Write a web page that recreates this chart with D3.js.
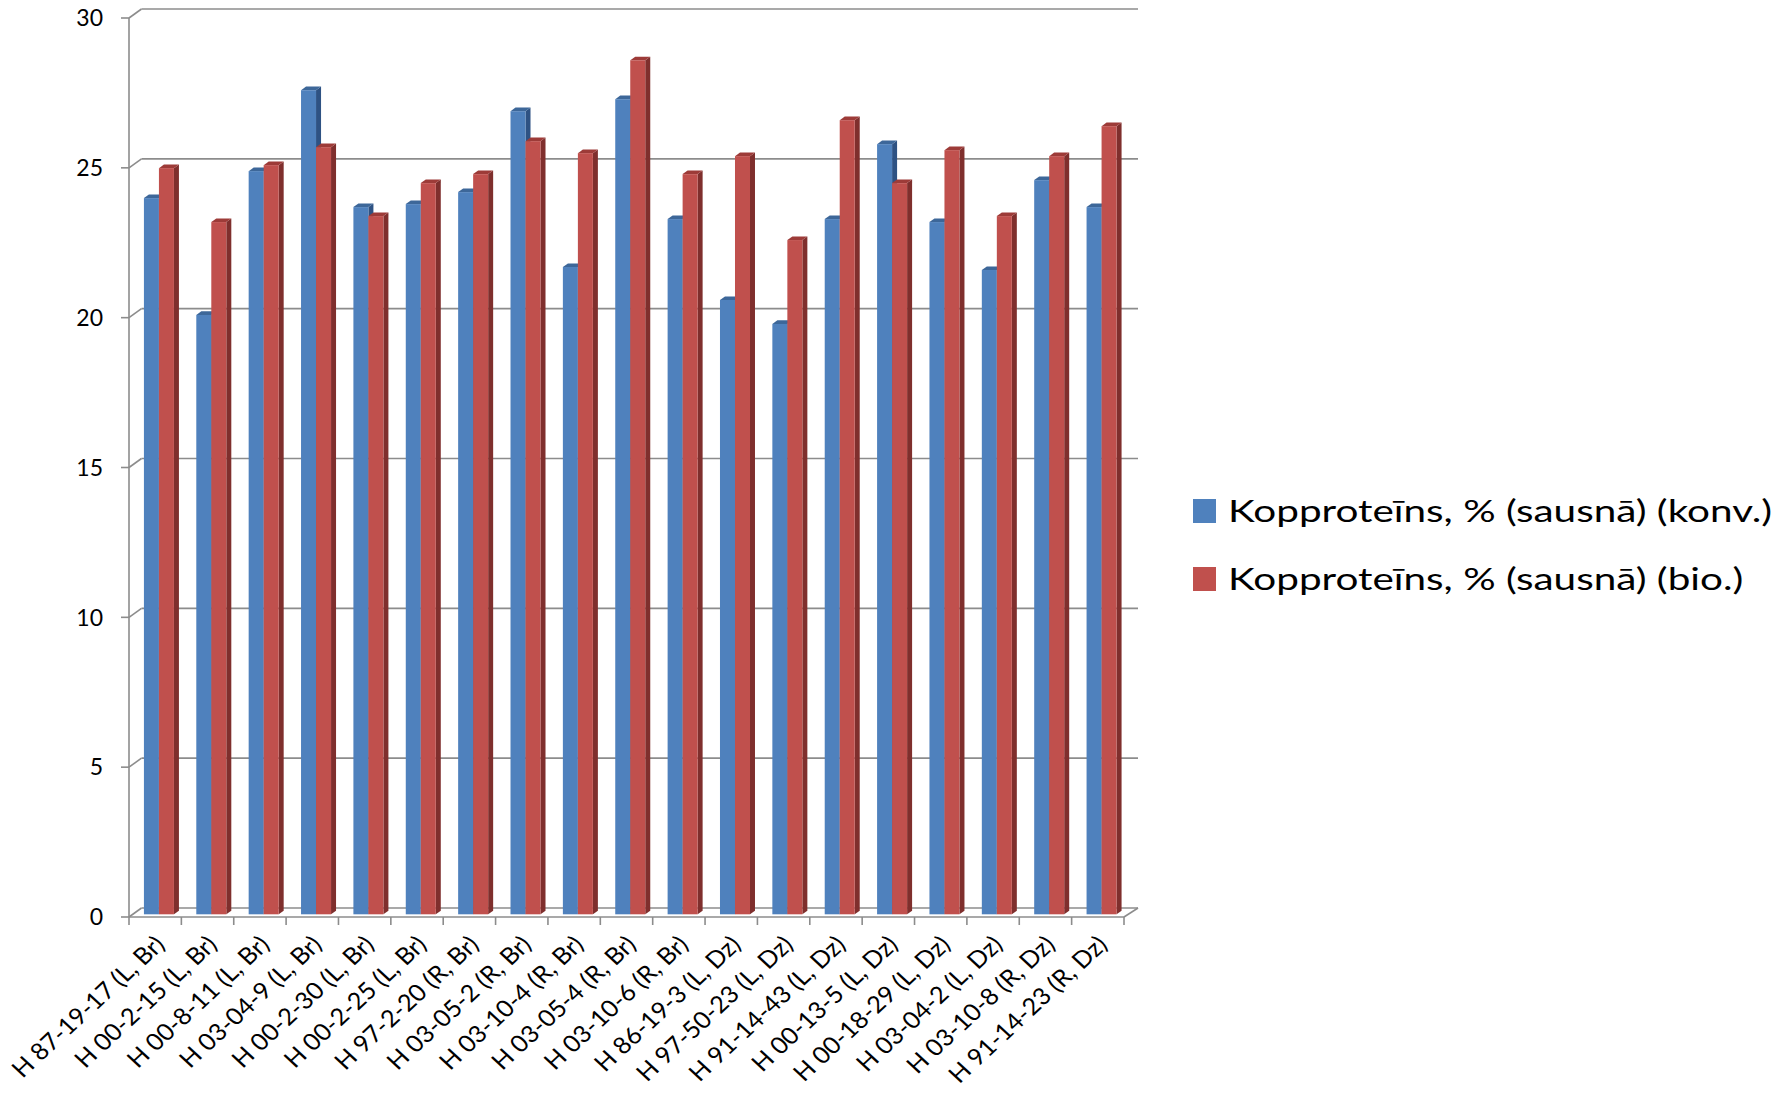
<!DOCTYPE html>
<html>
<head>
<meta charset="utf-8">
<script src="https://cdn.jsdelivr.net/npm/d3@7"></script>
<style>
  html, body { margin: 0; padding: 0; background: #ffffff; }
  svg { display: block; }
  text { font-family: Lato, "Open Sans", "DejaVu Sans", sans-serif; fill: #000; }
</style>
</head>
<body>
<svg id="chart" width="1790" height="1094"></svg>
<script>
const categories = [
  "H 87-19-17 (L, Br)", "H 00-2-15 (L, Br)", "H 00-8-11 (L, Br)", "H 03-04-9 (L, Br)",
  "H 00-2-30 (L, Br)", "H 00-2-25 (L, Br)", "H 97-2-20 (R, Br)", "H 03-05-2 (R, Br)",
  "H 03-10-4 (R, Br)", "H 03-05-4 (R, Br)", "H 03-10-6 (R, Br)", "H 86-19-3 (L, Dz)",
  "H 97-50-23 (L, Dz)", "H 91-14-43 (L, Dz)", "H 00-13-5 (L, Dz)", "H 00-18-29 (L, Dz)",
  "H 03-04-2 (L, Dz)", "H 03-10-8 (R, Dz)", "H 91-14-23 (R, Dz)"
];
const seriesNames = ["Kopproteīns, % (sausnā) (konv.)", "Kopproteīns, % (sausnā) (bio.)"];
const konvValues = [23.9, 20.0, 24.8, 27.5, 23.6, 23.7, 24.1, 26.8, 21.6, 27.2, 23.2, 20.5, 19.7, 23.2, 25.7, 23.1, 21.5, 24.5, 23.6];
const bioValues  = [24.9, 23.1, 25.0, 25.6, 23.3, 24.4, 24.7, 25.8, 25.4, 28.5, 24.7, 25.3, 22.5, 26.5, 24.4, 25.5, 23.3, 25.3, 26.3];
const yTicks = [0, 5, 10, 15, 20, 25, 30];

const seriesValues = [konvValues, bioValues];
const faceColors = [
  { front: "#4F81BD", top: "#3D6799", side: "#2E5283" },
  { front: "#C0504D", top: "#9D3B38", side: "#7F2F2D" }
];

const svg = d3.select("#chart");

// Geometry (front plane)
const x0 = 129, x1 = 1124;
const y = d3.scaleLinear().domain([0, 30]).range([917, 18]);
const x = d3.scaleBand().domain(categories).range([x0, x1]).padding(0);
const xs = d3.scaleBand().domain(seriesNames).range([0, x.bandwidth()]).paddingInner(0).paddingOuter(0.745);

// 3D depth vector (floor depth)
const D = { dx: 12.5, dy: -9 };
const fFront = 0.3, fBack = 0.7;

const gridColor = "#8C8C8C";

// Back wall gridlines + left wall diagonals
const grid = svg.append("g");
yTicks.forEach(t => {
  const yf = y(t);
  grid.append("line")
    .attr("x1", x0).attr("y1", yf)
    .attr("x2", x0 + D.dx).attr("y2", yf + D.dy)
    .attr("stroke", gridColor).attr("stroke-width", 1.6);
  grid.append("line")
    .attr("x1", x0 + D.dx).attr("y1", yf + D.dy)
    .attr("x2", x1 + D.dx + 1.5).attr("y2", yf + D.dy)
    .attr("stroke", gridColor).attr("stroke-width", 1.6);
});

// Floor front edge and right edge
grid.append("line")
  .attr("x1", x0).attr("y1", y(0)).attr("x2", x1).attr("y2", y(0))
  .attr("stroke", gridColor).attr("stroke-width", 1.6);
grid.append("line")
  .attr("x1", x1).attr("y1", y(0)).attr("x2", x1 + D.dx + 1.5).attr("y2", y(0) + D.dy)
  .attr("stroke", gridColor).attr("stroke-width", 1.6);

// Y axis line and ticks
grid.append("line")
  .attr("x1", x0).attr("y1", y(30)).attr("x2", x0).attr("y2", y(0))
  .attr("stroke", gridColor).attr("stroke-width", 1.6);
yTicks.forEach(t => {
  grid.append("line")
    .attr("x1", x0 - 8).attr("y1", y(t)).attr("x2", x0).attr("y2", y(t))
    .attr("stroke", gridColor).attr("stroke-width", 1.6);
});
svg.append("g").selectAll("text").data(yTicks).join("text")
  .attr("x", 103).attr("y", d => y(d))
  .attr("dy", "0.36em")
  .attr("text-anchor", "end")
  .attr("font-size", 23)
  .text(d => d);

// X ticks at category boundaries
const boundaries = categories.map(c => x(c)).concat([x1]);
grid.selectAll("line.xt").data(boundaries).join("line")
  .attr("class", "xt")
  .attr("x1", d => d).attr("x2", d => d)
  .attr("y1", y(0)).attr("y2", y(0) + 8)
  .attr("stroke", gridColor).attr("stroke-width", 1.6);

// Bars (3D columns)
const bars = svg.append("g");
const capDx = (fBack - fFront) * D.dx, capDy = (fBack - fFront) * D.dy;
const offX = fFront * D.dx, offY = fFront * D.dy;
categories.forEach((cat, i) => {
  seriesNames.forEach((s, si) => {
    const v = seriesValues[si][i];
    const bx = x(cat) + xs(s) + offX;
    const w = xs.bandwidth();
    const top = y(v) + offY;
    const bot = y(0) + offY;
    const c = faceColors[si];
    bars.append("path")
      .attr("d", `M${bx + w},${top} L${bx + w + capDx},${top + capDy} L${bx + w + capDx},${bot + capDy} L${bx + w},${bot} Z`)
      .attr("fill", c.side);
    bars.append("path")
      .attr("d", `M${bx},${top} L${bx + capDx},${top + capDy} L${bx + w + capDx},${top + capDy} L${bx + w},${top} Z`)
      .attr("fill", c.top);
    bars.append("rect")
      .attr("x", bx).attr("y", top)
      .attr("width", w).attr("height", bot - top)
      .attr("fill", c.front);
  });
});

// X labels rotated (slightly stretched horizontally, as in the reference)
svg.append("g").selectAll("text").data(categories).join("text")
  .attr("text-anchor", "end")
  .attr("font-size", 23.5)
  .attr("transform", d => `translate(${x(d) + x.bandwidth() / 2 + 11},${946}) scale(1.08,1) rotate(-45)`)
  .text(d => d);

// Legend
const legend = svg.append("g");
const legendTexts = [];
seriesNames.forEach((s, si) => {
  const cy = 511 + si * 68;
  legend.append("rect")
    .attr("x", 1193).attr("y", cy - 12)
    .attr("width", 23).attr("height", 24)
    .attr("fill", faceColors[si].front);
  const t = legend.append("text")
    .attr("x", 1228).attr("y", cy)
    .attr("dy", "0.36em")
    .attr("font-size", 31)
    .text(s);
  legendTexts.push(t);
});
// stretch legend text horizontally to the reference width
const baseLen = legendTexts[0].node().getComputedTextLength();
const k = 544 / baseLen;
legendTexts.forEach(t => {
  const len = t.node().getComputedTextLength();
  t.attr("textLength", len * k).attr("lengthAdjust", "spacingAndGlyphs");
});
</script>
</body>
</html>
